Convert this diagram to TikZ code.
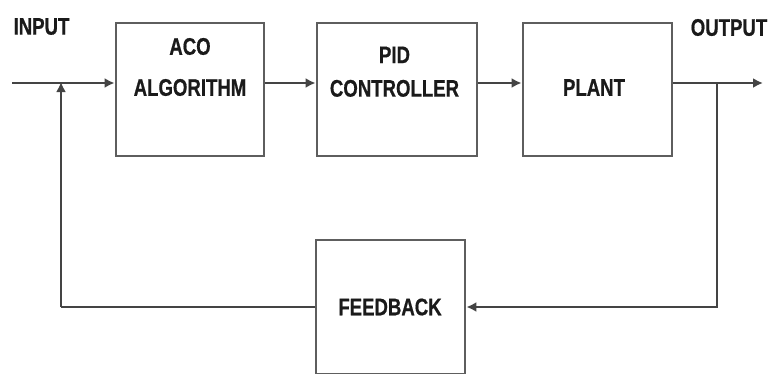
\documentclass[tikz,border=0pt]{standalone}
\usepackage{fontspec}
\newfontfamily\labfont[FakeStretch=0.775,FakeBold=0.6]{Liberation Sans}
\usetikzlibrary{arrows.meta}
\definecolor{boxgray}{HTML}{5E5E5E}
\definecolor{linegray}{HTML}{444444}
\definecolor{txt}{HTML}{1A1A1A}
\tikzset{
  blockbox/.style={draw=boxgray, line width=2.8pt, fill=none, inner sep=0pt},
  labtext/.style={text=txt, inner sep=0pt, align=center, font=\labfont\bfseries\fontsize{24}{33.5}\selectfont},
  conn/.style={draw=linegray, line width=2.5pt},
  arr/.style={conn, -{Latex[length=10pt,width=10pt]}}
}
\begin{document}
\begin{tikzpicture}[x=1pt,y=-1pt]
\useasboundingbox (0,0) rectangle (769,373);
\clip (0,0) rectangle (769,373);
% blocks
\node[blockbox, minimum width=148pt, minimum height=133pt] (aco) at (190,89.5) {};
\node[blockbox, minimum width=160pt, minimum height=133pt] (pid) at (397,89.5) {};
\node[blockbox, minimum width=149pt, minimum height=133pt] (plant) at (597.5,89.5) {};
\node[blockbox, minimum width=149pt, minimum height=134pt] (fb) at (390.5,307) {};
% texts
\node[labtext, font=\labfont\bfseries\fontsize{24}{41}\selectfont] (acot) at (190,67) {ACO\\ALGORITHM};
\node[labtext] (pidt) at (394.5,71.75) {PID\\CONTROLLER};
\node[labtext] (plantt) at (594,87.5) {PLANT};
\node[labtext] (fbt) at (390,307) {FEEDBACK};
\node[labtext] (inl) at (41.5,26.5) {INPUT};
\node[labtext] (outl) at (729,27.5) {OUTPUT};
% coordinates
\coordinate (in) at (12,83);
\coordinate (out) at (763,83);
\coordinate (oj) at (717,83);
\coordinate (fj) at (61,83);
\coordinate (fbl) at (61,307);
% connectors
\draw[arr] (in) -- (in -| aco.west);
\draw[arr] (aco.east |- in) -- (pid.west |- in);
\draw[arr] (pid.east |- in) -- (plant.west |- in);
\draw[arr] (plant.east |- in) -- (out);
\draw[arr] (oj) |- (fb.east);
\draw[conn] (fb.west) -- (fbl);
\draw[arr] (fbl) -- ([yshift=1pt]fj);
\end{tikzpicture}
\end{document}
